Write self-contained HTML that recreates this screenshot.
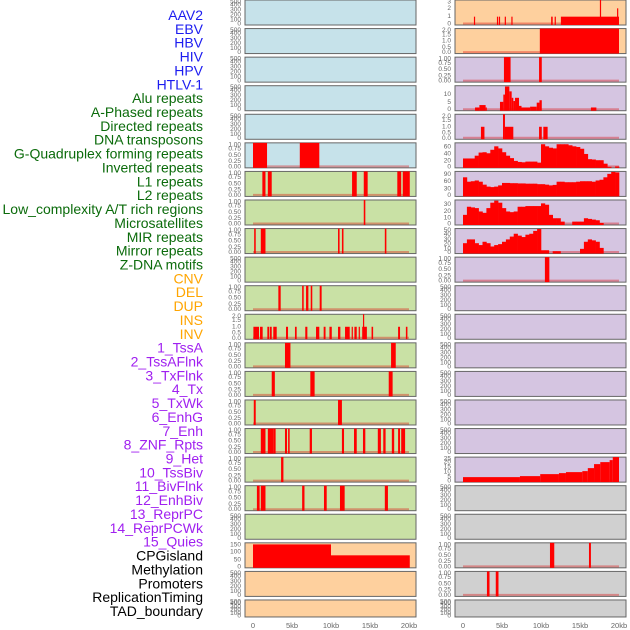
<!DOCTYPE html>
<html><head><meta charset="utf-8"><style>
html,body{margin:0;padding:0;background:#fff;}
svg{display:block;font-family:"Liberation Sans",sans-serif;}
</style></head><body>
<svg id="chart" width="630" height="630" viewBox="0 0 630 630" xmlns="http://www.w3.org/2000/svg"></svg>
<script>
// ---- labels ----
const labelNames = ["AAV2","EBV","HBV","HIV","HPV","HTLV-1","Alu repeats","A-Phased repeats","Directed repeats","DNA transposons","G-Quadruplex forming repeats","Inverted repeats","L1 repeats","L2 repeats","Low_complexity A/T rich regions","Microsatellites","MIR repeats","Mirror repeats","Z-DNA motifs","CNV","DEL","DUP","INS","INV","1_TssA","2_TssAFlnk","3_TxFlnk","4_Tx","5_TxWk","6_EnhG","7_Enh","8_ZNF_Rpts","9_Het","10_TssBiv","11_BivFlnk","12_EnhBiv","13_ReprPC","14_ReprPCWk","15_Quies","CPGisland","Methylation","Promoters","ReplicationTiming","TAD_boundary"];
const labelGroups = [6,13,5,15,5];
const groupColors = ["#1c1cf0","#0b6b0b","#ffa500","#a020f0","#000000"];

// ---- axis ----
const xTicks = [0,5,10,15,20];
const xTickLabels = ["0","5kb","10kb","15kb","20kb"];

// ---- tick sets ----
const T500 = [0,100,200,300,400,500];
const T1 = [0,0.25,0.5,0.75,1];
const T2 = [0,0.5,1,1.5,2];
const TCPG = [0,50,100,150];
const TAAV = [0,1,2,3];
const TALU = [0,5,10];
const TG4R = [0,20,40,60];
const TL1R = [0,30,60,90];
const TLOW = [0,10,20,30];
const TMIC = [0,10,20,30,40,50];
const TTAD = [0,5,10,15,20,25];

// ---- left column events [startKb,endKb,value] ----
const L_G4 = [[0,1.8,1],[6,8.5,1]];
const L_INV = [[1.2,1.6,1],[1.9,2.4,1],[12.7,13.3,1],[14.2,14.7,1],[18.5,19.0,1],[19.2,20.1,1]];
const L_L1 = [[14.2,14.4,1]];
const L_L2 = [[0.15,0.35,1],[1.0,1.6,1],[10.9,11.1,1],[11.4,11.6,1],[16.9,17.1,1]];
const L_LOW = [[3.25,3.55,1],[6.3,6.5,1],[6.8,7.1,1],[7.4,7.6,1],[8.55,8.8,1]];
const L_MIC = [[0.05,0.77,1],[0.9,1.24,1],[1.84,2.09,1],[2.18,2.4,1],[2.6,3.04,1],[4.23,4.49,1],[5.38,5.6,1],[6.7,6.97,1],[8.08,8.5,1],[9.06,9.3,1],[9.8,10.1,1],[10.9,11.2,1],[11.8,12.4,1],[12.65,12.8,1],[13.0,13.3,1],[13.55,13.7,1],[14.0,14.6,1],[14.1,14.2,2],[15.2,15.4,1],[18.6,18.85,1],[19.6,19.8,1]];
const L_MIR = [[4.1,4.8,1],[17.7,18.3,1]];
const L_MIRROR = [[2.4,2.8,1],[7.35,7.9,1],[17.4,17.9,1]];
const L_ZDNA = [[0.1,0.35,1],[10.9,11.4,1]];
const L_CNV = [[1.0,1.6,1],[1.9,2.6,1],[2.6,2.9,1],[4.1,4.36,1],[4.5,4.7,1],[7.27,7.56,1],[11.4,11.67,1],[12.95,13.3,1],[14.1,14.4,1],[16.0,16.4,1],[16.7,17.0,1],[17.8,18.1,1],[18.6,18.85,1],[19.0,19.5,1]];
const L_DEL = [[3.6,3.9,1]];
const L_DUP = [[0.5,0.85,1],[1.0,1.6,1],[6.3,6.6,1],[9.1,9.45,1],[11.15,11.75,1],[16.9,17.3,1]];
const L_CPG = [[0,10,150],[10,20.1,80]];

// ---- right column events ----
const R_AAV = [[1.4,1.55,1],[4.35,4.5,1],[4.6,4.75,1],[5.35,5.5,1],[6.2,6.35,1],[11.3,11.5,1],[11.75,11.9,1],[12.55,20,1],[17.55,17.7,3],[19.75,19.9,2]];
const R_EBV = [[9.85,20,2]];
const R_HIV = [[5.25,6.1,1],[9.75,10.1,1]];
const R_ALU = [[1.54,2.1,2],[2.1,2.9,3.5],[2.9,3.03,2],[4.74,5.17,5.5],[5.17,5.38,10],[5.38,5.94,15],[5.94,6.24,12],[6.24,6.45,8],[6.45,6.67,6],[6.67,7.18,8],[7.18,7.5,3],[7.5,8.6,2],[8.6,9.45,2.5],[9.45,9.8,5],[9.8,10.1,6.5],[16.4,17.1,2]];
const R_APH = [[2.3,2.75,1],[5.13,5.38,2],[5.38,6.45,1],[9.75,10.1,1],[10.3,10.85,1]];
const R_ZDNA = [[10.5,11.07,1]];
const R_TAD = [[0,7.3,5],[7.3,9.9,6],[9.9,12.3,8],[12.3,13.2,9],[13.2,15.3,10],[15.3,16.0,11],[16.0,16.8,14],[16.8,17.6,18],[17.6,18.8,20],[18.8,19.2,22],[19.2,20,25]];
const R_CPG = [[11.15,11.7,1],[16.15,16.4,1]];
const R_PROM = [[3.07,3.4,1],[4.2,4.55,1]];

// ---- right column binned values (0.5 kb bins) ----
const R_G4 = [27,27,27,35,44,45,42,52,62,56,45,35,28,20,17,16,18,18,18,15,68,62,58,56,68,68,68,65,62,60,55,40,25,24,22,22,12,3,0,4];
const R_L1 = [78,60,62,65,60,48,40,38,40,45,55,55,54,54,53,53,52,52,52,50,50,48,45,47,60,60,58,58,58,60,62,62,62,60,65,68,78,92,100,98];
const R_LOW = [15,27,26,25,20,18,25,33,36,33,25,20,19,20,27,27,28,28,28,28,32,30,15,10,10,5,0,0,5,5,5,10,9,8,7,3,0,0,0,0];
const R_MIC = [22,30,30,22,18,25,22,15,18,20,25,30,36,42,38,35,40,42,48,52,7,7,0,5,5,0,0,0,0,0,10,25,30,28,25,12,0,0,0,0];

const BLUE="#c6e2ea", GREEN="#c9e1a5", ORANGE="#fed09e", LAV="#d5c5e1", GRAY="#d0d0d0";

// [bg, ticks, tickDecimals, max, events, bins]
const leftRows = [
 [BLUE,T500,0,500,null,null],[BLUE,T500,0,500,null,null],[BLUE,T500,0,500,null,null],
 [BLUE,T500,0,500,null,null],[BLUE,T500,0,500,null,null],[BLUE,T1,2,1,L_G4,null],
 [GREEN,T1,2,1,L_INV,null],[GREEN,T1,2,1,L_L1,null],[GREEN,T1,2,1,L_L2,null],
 [GREEN,T500,0,500,null,null],[GREEN,T1,2,1,L_LOW,null],[GREEN,T2,1,2,L_MIC,null],
 [GREEN,T1,2,1,L_MIR,null],[GREEN,T1,2,1,L_MIRROR,null],[GREEN,T1,2,1,L_ZDNA,null],
 [GREEN,T1,2,1,L_CNV,null],[GREEN,T1,2,1,L_DEL,null],[GREEN,T1,2,1,L_DUP,null],
 [GREEN,T500,0,500,null,null],[ORANGE,TCPG,0,160,L_CPG,null],[ORANGE,T500,0,500,null,null],
 [ORANGE,T500,0,500,null,null]];
const rightRows = [
 [ORANGE,TAAV,0,3,R_AAV,null],[ORANGE,T2,1,2,R_EBV,null],[LAV,T1,2,1,R_HIV,null],
 [LAV,TALU,0,15.5,R_ALU,null],[LAV,T2,1,2,R_APH,null],[LAV,TG4R,0,72,null,R_G4],
 [LAV,TL1R,0,102,null,R_L1],[LAV,TLOW,0,37,null,R_LOW],[LAV,TMIC,0,53,null,R_MIC],
 [LAV,T1,2,1,R_ZDNA,null],[LAV,T500,0,500,null,null],[LAV,T500,0,500,null,null],
 [LAV,T500,0,500,null,null],[LAV,T500,0,500,null,null],[LAV,T500,0,500,null,null],
 [LAV,T500,0,500,null,null],[LAV,TTAD,0,25,R_TAD,null],[GRAY,T500,0,500,null,null],
 [GRAY,T500,0,500,null,null],[GRAY,T1,2,1,R_CPG,null],[GRAY,T1,2,1,R_PROM,null],
 [GRAY,T500,0,500,null,null]];

const NS="http://www.w3.org/2000/svg";
const svg=document.getElementById("chart");
function mk(tag,attrs,parent){const e=document.createElementNS(NS,tag);for(const k in attrs)e.setAttribute(k,attrs[k]);(parent||svg).appendChild(e);return e;}

// labels
let li=0;
labelGroups.forEach((n,g)=>{for(let j=0;j<n;j++){const t=mk("text",{x:203,y:15+li*13.86,"text-anchor":"end","dominant-baseline":"central","font-size":"14",fill:groupColors[g]});


t.textContent=labelNames[li];li++;}});

function rowTop(i){return i*28.57;}
function rowH(i){return i===21?17:25;}
function xScale(col,kb){return (col?463:253)+kb*7.8;}
function yScale(top,h,max,v){return top+h-(v/max)*h;}

function drawCol(rows,col){
 const px=col?455:245, pw=171;
 rows.forEach((r,i)=>{
  const [bg,ticks,dec,max,ev,bins]=r;
  const top=rowTop(i), h=rowH(i);
  const g=mk("g",{});
  
  
  mk("rect",{x:px,y:top,width:pw,height:h,fill:bg,stroke:"#666","stroke-width":1},g);
  const tmax=ticks[ticks.length-1];
  ticks.forEach(t=>{
   const y=yScale(top,h,tmax>max?tmax:max,t);
   const tx=mk("text",{x:px-4,y:Math.max(top+2,Math.min(top+h-1,y)),"text-anchor":"end","dominant-baseline":"central","font-size":"6.5",fill:"#666"},g);
   
   
   tx.textContent=t.toFixed(dec);
  });
  if(ev||bins){
   mk("line",{x1:xScale(col,0),x2:xScale(col,20),y1:top+h-1.5,y2:top+h-1.5,stroke:"rgba(220,0,0,0.35)","stroke-width":2},g);
  }
  if(ev){ev.forEach(e=>{const x1=xScale(col,e[0]),x2=xScale(col,e[1]);const y=yScale(top,h,max,e[2]);
   const b=mk("rect",{x:x1,y:y,width:Math.max(1.2,x2-x1),height:top+h-y,fill:"#ff0000"},g);
   
   });}
  if(bins){bins.forEach((v,k)=>{if(v<=0)return;const x1=xScale(col,k*0.5),x2=xScale(col,(k+1)*0.5);const y=yScale(top,h,max,v);
   const b=mk("rect",{x:x1,y:y,width:x2-x1+0.3,height:top+h-y,fill:"#ff0000"},g);
   
   });}
 });
 xTicks.forEach((t,k)=>{const tx=mk("text",{x:xScale(col,t),y:628,"text-anchor":"middle","font-size":"7.5",fill:"#666"});
  
  
  tx.textContent=xTickLabels[k];});
}
drawCol(leftRows,0);
drawCol(rightRows,1);
</script>
</body></html>
